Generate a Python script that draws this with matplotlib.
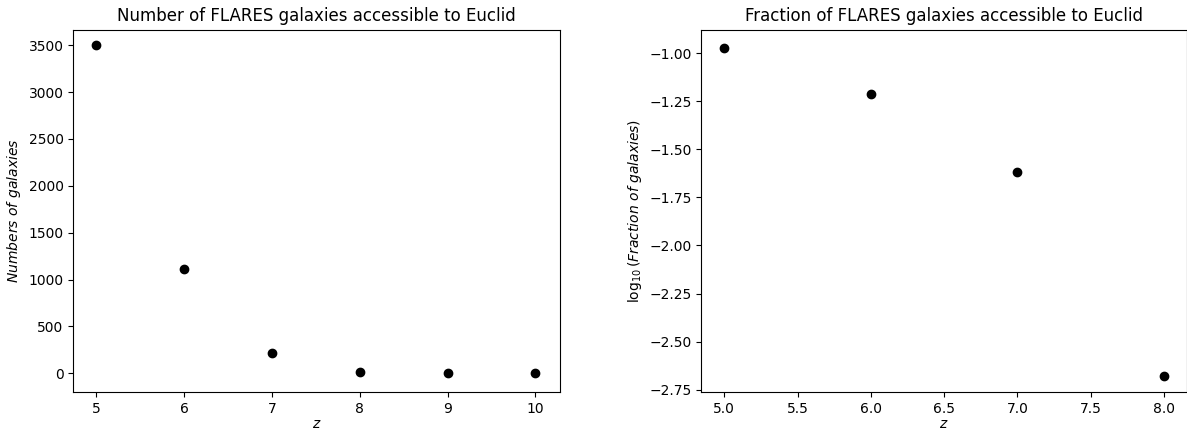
import matplotlib
matplotlib.use('Agg')
import matplotlib.pyplot as plt

# data
z_num = [5, 6, 7, 8, 9, 10]
n_gal = [3500, 1114, 221, 9, 1, 1]

z_frac = [5, 6, 7, 8]
log_frac = [-0.97, -1.21, -1.615, -2.678]

W, H = 1187, 432
fig = plt.figure(figsize=(W / 100, H / 100), dpi=100)

# axes placed in pixel coords (left, bottom, width, height)
ax1 = fig.add_axes([73.3 / W, (H - 392.3) / H, (560 - 73.3) / W, (392.3 - 29.7) / H])
ax2 = fig.add_axes([701.3 / W, (H - 392.3) / H, (1187 - 701.3) / W, (392.3 - 29.7) / H])

# ===================================================================== left

ax1.plot(z_num, n_gal, 'ko')
ax1.set_title('Number of FLARES galaxies accessible to Euclid', fontsize=12)
ax1.set_xlabel('$z$', labelpad=1)
ax1.set_ylabel(r'$Numbers\ of\ galaxies$')
ax1.set_xlim(4.74, 10.28)
ax1.set_ylim(-203, 3666)

# ===================================================================== right

ax2.plot(z_frac, log_frac, 'ko')
ax2.set_title('Fraction of FLARES galaxies accessible to Euclid', fontsize=12)
ax2.set_xlabel('$z$', labelpad=1)
ax2.set_ylabel(r'$\log_{10}(Fraction\ of\ galaxies)$')
ax2.set_xlim(4.843, 8.157)
ax2.set_ylim(-2.764, -0.877)

fig.savefig('out.png', dpi=100)
